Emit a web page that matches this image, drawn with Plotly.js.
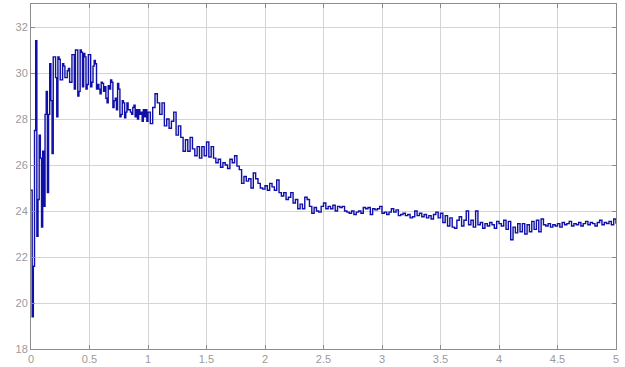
<!DOCTYPE html>
<html>
<head>
<meta charset="utf-8">
<script src="https://cdn.plot.ly/plotly-3.0.1.min.js"></script>
<style>html,body{margin:0;padding:0;background:#fff;}#chart{width:625px;height:367px;}</style>
</head>
<body>
<div id="chart"></div>
<script>
// Sample times (s): first second sampled at 0.01 s, the rest at 0.02 s
const fastStep = 0.01;
const slowStep = 0.02;

// Signal values, first second (0.00 .. 0.99, step 0.01)
const valuesFast = [
  24.9,19.4,21.6,27.5,31.4,22.9,24.5,27.3,26.3,23.3,
  26.6,24.2,28.2,29.2,24.8,28.2,30.4,28.8,26.5,30.7,
  30.7,29.8,28.1,30.7,30.6,29.7,29.7,30.4,30.3,29.8,
  29.8,30.1,30.2,29.6,29.6,30.8,30.8,29.3,31.0,31.0,
  29.0,29.2,31.0,30.9,29.4,30.85,30.7,29.3,29.5,30.8,
  30.8,29.4,29.6,30.3,30.55,30.4,29.3,29.5,29.3,29.1,
  29.6,29.55,29.2,29.4,28.9,28.7,29.45,29.3,29.7,29.6,
  28.5,28.8,28.9,28.4,29.55,29.3,28.1,28.2,28.8,28.7,
  28.05,28.3,28.7,28.4,28.4,28.3,28.2,28.5,28.6,28.1,
  28.4,28.0,28.4,28.2,28.3,27.9,28.4,28.1,28.4,27.9
];

// Signal values, 1.00 .. 5.00 (step 0.02)
const valuesSlow = [
  28.3,27.8,28.5,29.1,28.7,28.2,28.7,27.7,28.0,27.6,
  27.9,28.3,27.3,27.7,27.2,26.6,27.1,26.6,27.2,26.7,
  26.4,26.8,26.3,26.8,26.4,27.0,26.35,26.8,26.3,26.1,
  26.25,25.9,26.1,26.0,25.85,26.25,26.1,26.4,25.95,25.8,
  25.2,25.5,25.3,25.4,25.0,25.65,25.4,25.2,25.0,24.95,
  25.1,24.9,25.2,25.05,24.9,25.35,24.8,24.65,24.8,24.5,
  24.6,24.8,24.35,24.5,24.1,24.3,24.1,24.6,24.5,24.2,
  23.9,24.15,24.0,23.95,24.2,24.35,24.1,24.2,24.1,24.25,
  24.0,24.2,24.15,24.2,24.0,23.95,23.9,24.0,23.85,23.95,
  24.0,23.9,24.15,24.1,24.15,23.85,24.1,24.05,24.1,24.2,
  23.9,23.95,23.85,23.95,24.1,23.95,24.05,23.8,23.85,23.9,
  23.8,23.85,23.7,23.75,24.0,23.8,23.9,23.75,23.85,23.7,
  23.8,23.65,23.85,23.95,23.7,23.9,23.5,23.8,23.35,23.7,
  23.3,23.25,23.6,23.75,23.35,23.6,24.0,23.4,23.6,23.3,
  24.0,23.4,23.5,23.25,23.45,23.35,23.5,23.4,23.25,23.55,
  23.45,23.35,23.6,23.2,23.55,22.75,23.3,23.05,23.45,23.1,
  23.45,23.0,23.4,23.1,23.55,23.2,23.6,23.1,23.65,23.4,
  23.35,23.45,23.3,23.4,23.35,23.45,23.3,23.5,23.4,23.45,
  23.55,23.35,23.45,23.4,23.5,23.35,23.45,23.55,23.4,23.5,
  23.45,23.35,23.5,23.6,23.4,23.5,23.45,23.55,23.4,23.65,
  23.45
];

const xTicks = [0,0.5,1,1.5,2,2.5,3,3.5,4,4.5,5];
const xTickLabels = ['0','0.5','1','1.5','2','2.5','3','3.5','4','4.5','5'];
const yTicks = [18,20,22,24,26,28,30,32];
const yTickLabels = ['18','20','22','24','26','28','30','32'];

const tFast = valuesFast.map((_, i) => +(i * fastStep).toFixed(4));
const tSlow = valuesSlow.map((_, i) => +(1 + i * slowStep).toFixed(4));
const t = tFast.concat(tSlow);
const v = valuesFast.concat(valuesSlow);

const axisCommon = {
  showline: true, mirror: 'ticks', linecolor: '#8c8c8c', linewidth: 1,
  ticks: 'inside', ticklen: 4, tickcolor: '#8c8c8c',
  showgrid: true, gridcolor: '#d4d4d4', gridwidth: 1,
  zeroline: false,
  tickfont: {family: 'Liberation Sans, Arial, sans-serif', size: 11, color: '#9a9a9a'}
};

Plotly.newPlot('chart', [{
  x: t, y: v, type: 'scatter', mode: 'lines',
  line: {shape: 'hv', color: '#1010a8', width: 1.4},
  hoverinfo: 'skip'
}], {
  width: 625, height: 367,
  margin: {l: 31, r: 9, t: 4, b: 18},
  paper_bgcolor: '#ffffff', plot_bgcolor: '#ffffff',
  showlegend: false,
  xaxis: Object.assign({}, axisCommon, {range: [0, 5], tickvals: xTicks, ticktext: xTickLabels}),
  yaxis: Object.assign({}, axisCommon, {range: [18, 33], tickvals: yTicks, ticktext: yTickLabels})
}, {displayModeBar: false, staticPlot: true});
</script>
</body>
</html>
